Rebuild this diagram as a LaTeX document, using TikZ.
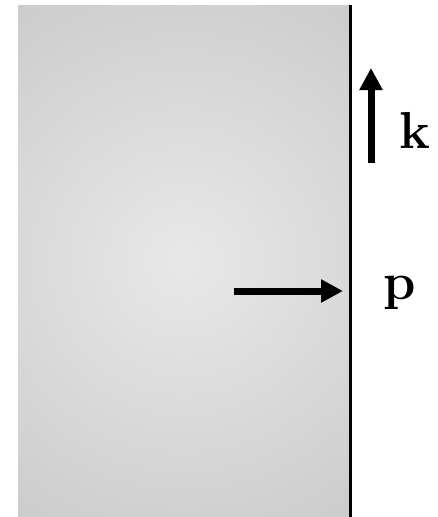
\documentclass[tikz,border=0pt]{standalone}
\usepackage{fontspec}
\usetikzlibrary{arrows.meta}
\begin{document}
\begin{tikzpicture}[x=1pt,y=-1pt,
  thickarrow/.style={line width=7pt,-{Triangle[width=22pt,length=22pt]}},
  lbl/.style={font=\fontsize{52}{56}\selectfont\bfseries}]
\useasboundingbox (0,0) rectangle (438,517);
\begin{scope}
  \clip (18,5) rectangle (350,517);
  \shade[inner color=gray!18, outer color=gray!62] (184,261) circle (610);
\end{scope}
\coordinate (wt) at (350,5);
\coordinate (wb) at (350,517);
\draw[line width=3pt] (wt) -- (wb);
\coordinate (ks) at (371,163);
\coordinate (ke) at (371,68);
\draw[thickarrow] (ks) -- (ke);
\coordinate (ps) at (234,291);
\coordinate (pe) at (343,291);
\draw[thickarrow] (ps) -- (pe);
\node[lbl] (k) at (415,130) {k};
\node[lbl] (p) at (400,293) {p};
\end{tikzpicture}
\end{document}
